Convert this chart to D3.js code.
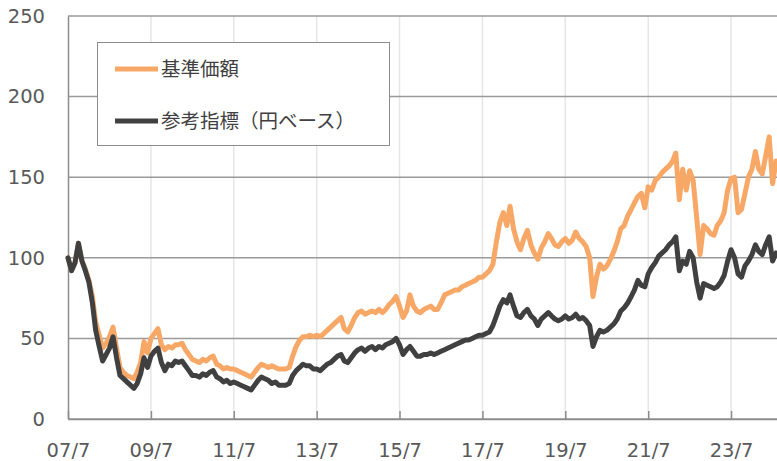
<!DOCTYPE html>
<html>
<head>
<meta charset="utf-8">
<script src="https://cdn.jsdelivr.net/npm/d3@7/dist/d3.min.js"></script>
<style>
  html, body { margin: 0; padding: 0; background: #fff; }
  svg { display: block; }
  .tick-label { font-family: "DejaVu Sans", Verdana, sans-serif; font-size: 19.5px; fill: #595959; }
  .legend-label { font-family: "Noto Sans CJK JP", sans-serif; font-size: 19.5px; fill: #404040; }
</style>
</head>
<body>
<svg id="chart" width="777" height="461"></svg>
<script>
'use strict';

// monthly values, first one is 2007/7
var startMonth = '2007-07';

var seriesNames = ['基準価額', '参考指標（円ベース）'];
var seriesColors = ['#f7a867', '#404040'];

// 基準価額
var fundValues = [
  100, 92, 97, 109, 98, 93, 86, 76, 60, 52,
  44, 47, 51, 57, 44, 32, 29, 27, 26, 25,
  29, 35, 48, 41, 50, 53, 56, 46, 43, 45,
  44, 46, 46, 47, 43, 40, 37, 36, 35, 37,
  36, 38, 39, 34, 33, 31, 32, 31, 31, 30,
  29, 28, 27, 26, 29, 32, 34, 33, 32, 33,
  32, 31, 31, 31, 32, 39, 45, 49, 51, 51,
  52, 51, 52, 51, 53, 55, 57, 59, 61, 63,
  56, 54, 58, 63, 66, 67, 65, 66, 67, 66,
  68, 66, 68, 71, 73, 76, 70, 63, 67, 77,
  70, 67, 66, 68, 69, 70, 68, 68, 72, 77,
  78, 79, 80, 80, 82, 83, 84, 85, 86, 88,
  88, 90, 92, 96, 110, 122, 128, 120, 132, 118,
  110, 105, 112, 117, 108, 103, 99, 106, 110, 115,
  112, 108, 107, 110, 112, 109, 111, 116, 112, 110,
  107, 100, 76, 88, 96, 93, 95, 99, 104, 110,
  118, 120, 126, 130, 134, 138, 140, 131, 144, 142,
  148, 150, 153, 155, 157, 160, 165, 136, 155, 142,
  154, 148, 125, 102, 120, 118, 115, 114, 120, 123,
  128, 142, 149, 150, 128, 130, 140, 150, 155, 166,
  155, 152, 163, 175, 146, 160
];

// 参考指標（円ベース）
var refValues = [
  100, 92, 97, 109, 98, 92, 85, 72, 55, 45,
  36, 40, 44, 51, 38, 27, 25, 23, 21, 19,
  22, 28, 38, 32, 39, 42, 44, 35, 30, 34,
  33, 36, 35, 36, 33, 30, 27, 27, 26, 28,
  27, 29, 30, 26, 25, 23, 24, 22, 23, 22,
  21, 20, 19, 18, 21, 24, 26, 25, 24, 22,
  23, 21, 21, 21, 22, 27, 30, 32, 34, 33,
  33, 31, 31, 30, 32, 34, 35, 37, 39, 40,
  36, 35, 38, 41, 43, 44, 42, 44, 45, 43,
  45, 44, 46, 47, 48, 50, 46, 40, 43, 45,
  42, 39, 39, 40, 40, 41, 40, 41, 42, 43,
  44, 45, 46, 47, 48, 49, 49, 50, 51, 52,
  52, 53, 54, 58, 64, 70, 74, 72, 77, 70,
  64, 63, 66, 68, 64, 62, 58, 62, 64, 66,
  64, 62, 61, 62, 64, 62, 63, 65, 62, 63,
  61, 58, 45, 51, 55, 54, 55, 57, 59, 62,
  67, 69, 72, 76, 80, 86, 83, 82, 90, 94,
  97, 101, 103, 105, 108, 110, 113, 92, 98, 96,
  104, 100, 85, 75, 84, 83, 82, 81, 82, 85,
  89, 98, 105, 100, 90, 88, 95, 98, 102, 108,
  104, 102, 108, 113, 98, 103
];

var yTicks = [0, 50, 100, 150, 200, 250];
var xTickLabels = ['07/7', '09/7', '11/7', '13/7', '15/7', '17/7', '19/7', '21/7', '23/7'];

(function() {
  var svg = d3.select('#chart');
  var width = 777, height = 461;
  var margin = { top: 16, right: 0, bottom: 42, left: 68 };
  var plotW = width - margin.left - margin.right;
  var plotH = height - margin.top - margin.bottom;

  var start = d3.timeParse('%Y-%m')(startMonth);
  var parseTick = d3.timeParse('%y/%m');
  var tickDates = xTickLabels.map(function(t) { return parseTick(t); });

  function toPoints(values) {
    return values.map(function(v, i) { return { date: d3.timeMonth.offset(start, i), value: v }; });
  }
  var series = [toPoints(fundValues), toPoints(refValues)];

  var x = d3.scaleTime()
    .domain([start, new Date(2024, 7, 9)])
    .range([0, plotW]);
  var y = d3.scaleLinear()
    .domain([0, 250])
    .range([plotH, 0]);

  var g = svg.append('g').attr('transform', 'translate(' + margin.left + ',' + margin.top + ')');

  // vertical grid, light
  g.append('g').selectAll('line').data(tickDates.slice(1)).enter().append('line')
    .attr('x1', function(d) { return x(d); })
    .attr('x2', function(d) { return x(d); })
    .attr('y1', 0).attr('y2', plotH)
    .attr('stroke', '#e6e6e6').attr('stroke-width', 1.5);

  // horizontal grid
  g.append('g').selectAll('line').data(yTicks).enter().append('line')
    .attr('x1', 0).attr('x2', plotW)
    .attr('y1', function(d) { return y(d); })
    .attr('y2', function(d) { return y(d); })
    .attr('stroke', '#9a9a9a').attr('stroke-width', 1.5);

  // x axis with inward ticks
  var xAxis = d3.axisBottom(x)
    .tickValues(tickDates)
    .tickFormat(function(d, i) { return xTickLabels[i]; })
    .tickSizeInner(-8).tickSizeOuter(0).tickPadding(22);
  var xg = g.append('g').attr('transform', 'translate(0,' + plotH + ')').call(xAxis);
  xg.select('.domain').attr('stroke', '#8c8c8c').attr('stroke-width', 1.5);
  xg.selectAll('.tick line').attr('stroke', '#8c8c8c').attr('stroke-width', 1.5);
  xg.selectAll('.tick text').attr('class', 'tick-label').attr('dy', '0.35em').attr('y', 31);

  // y axis
  var yAxis = d3.axisLeft(y).tickValues(yTicks).tickSize(0).tickPadding(23);
  var yg = g.append('g').call(yAxis);
  yg.select('.domain').attr('stroke', '#8c8c8c').attr('stroke-width', 1.5);
  yg.selectAll('.tick text').attr('class', 'tick-label');

  // lines
  var line = d3.line()
    .x(function(d) { return x(d.date); })
    .y(function(d) { return y(d.value); })
    .curve(d3.curveLinear);

  g.append('g').selectAll('path').data(series).enter().append('path')
    .attr('d', line)
    .attr('fill', 'none')
    .attr('stroke', function(d, i) { return seriesColors[i]; })
    .attr('stroke-width', 5)
    .attr('stroke-linejoin', 'round')
    .attr('stroke-linecap', 'round');

  // legend
  var legend = svg.append('g').attr('transform', 'translate(97,42)');
  legend.append('rect')
    .attr('x', 0.5).attr('y', 0.5).attr('width', 292).attr('height', 103)
    .attr('fill', '#fff').attr('stroke', '#8c8c8c').attr('stroke-width', 1);
  var items = legend.selectAll('g.item').data(seriesNames).enter().append('g')
    .attr('class', 'item')
    .attr('transform', function(d, i) { return 'translate(18,' + (27 + i * 52) + ')'; });
  items.append('line')
    .attr('x1', 0).attr('x2', 43).attr('y1', 0).attr('y2', 0)
    .attr('stroke', function(d, i) { return seriesColors[i]; })
    .attr('stroke-width', 5);
  items.append('text')
    .attr('class', 'legend-label')
    .attr('x', 46).attr('y', 0).attr('dy', '0.35em')
    .text(function(d) { return d; });
}());
</script>
</body>
</html>
